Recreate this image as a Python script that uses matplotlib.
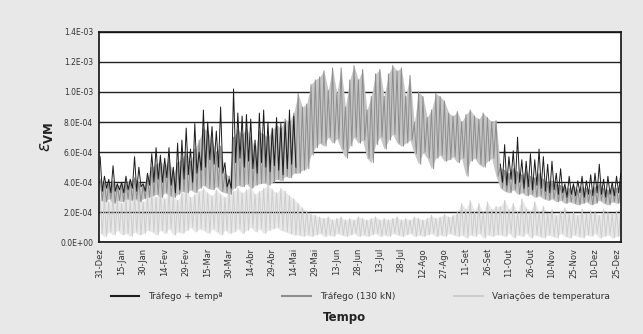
import numpy as np
import matplotlib
matplotlib.use("Agg")
import matplotlib.pyplot as plt
from matplotlib.lines import Line2D

# ---- data (values in units of 1e-4), sampled every 3 days from 31-Dez ----
step_days = 3
nan = np.nan

# Tráfego + tempª (black)
black_hi = ([5.7, 4.4, 4.2, 5.1, 3.9, 4.0, 4.4, 4.2, 5.7, 5.0,
             3.9, 4.6, 5.9, 6.3, 5.8, 5.6, 6.3, 5.0, 6.6, 6.8,
             7.6, 6.2, 7.9, 6.0, 8.8, 8.0, 7.7, 7.4, 9.0, 5.3,
             4.2, 10.2, 8.6, 8.4, 8.5, 8.2, 6.8, 8.6, 8.8, 8.0,
             7.6, 8.3, 7.9, 8.0, 8.8, 8.4]
            + [nan] * 47
            + [5.2, 6.5, 5.7, 6.1, 7.0, 5.5, 5.4, 5.9, 5.5, 6.2,
               5.7, 5.2, 5.4, 4.6, 4.9, 3.9, 4.4, 3.9, 4.1, 4.4,
               4.1, 4.5, 4.6, 5.2, 4.2, 4.4, 4.0, 4.4, 4.6])
black_lo = ([3.4, 3.6, 3.3, 3.4, 3.5, 3.3, 3.5, 3.6, 3.4, 3.7,
             3.4, 3.8, 4.0, 4.2, 4.0, 4.3, 3.8, 3.3, 3.5, 4.2,
             4.5, 4.0, 4.6, 4.8, 5.0, 5.5, 5.2, 5.0, 4.6, 3.7,
             3.6, 5.3, 5.6, 5.0, 5.4, 4.9, 4.6, 5.3, 5.0, 4.7,
             5.1, 4.8, 4.5, 4.9, 5.2, 5.0]
            + [nan] * 47
            + [4.0, 3.8, 4.2, 3.9, 4.0, 3.6, 3.7, 3.5, 3.8, 3.6,
               3.4, 3.3, 3.5, 3.2, 3.3, 3.0, 3.2, 3.1, 3.3, 3.0,
               3.2, 3.1, 3.3, 3.2, 3.0, 3.2, 3.1, 3.3, 3.2])

# Tráfego (130 kN) (mid grey)
traffic_hi = [4.2, 4.0, 3.9, 4.1, 3.8, 3.9, 4.0, 4.1, 4.3, 4.0,
              3.8, 4.3, 5.0, 5.2, 5.4, 5.1, 5.5, 4.6, 5.3, 5.6,
              6.0, 5.4, 6.2, 6.8, 7.6, 7.4, 6.8, 6.0, 6.4, 4.6,
              4.4, 7.0, 7.5, 7.2, 7.6, 7.0, 6.2, 7.4, 7.2, 7.0,
              7.5, 7.8, 7.6, 8.2, 8.0, 8.6,
              9.9, 9.0, 9.2, 10.5, 10.8, 11.0, 11.4, 10.1, 11.6, 9.9,
              11.6, 9.0, 10.8, 11.75, 10.8, 11.5, 8.8, 9.7, 11.2, 11.5,
              9.7, 11.2, 11.75, 11.4, 11.6, 9.7, 11.1, 7.9, 10.0, 9.7,
              8.3, 8.8, 9.9, 9.7, 9.4, 8.6, 8.4, 8.7, 8.0, 8.5,
              8.8, 8.4, 8.2, 8.6, 8.3, 8.0, 8.1,
              5.0, 4.8, 4.6, 4.9, 4.7, 4.5, 4.8, 4.4, 4.3, 4.6,
              4.2, 4.0, 4.1, 3.9, 3.8, 3.7, 3.6, 3.8, 3.5, 3.7,
              3.6, 3.5, 3.7, 3.9, 3.6, 3.5, 3.7, 3.6, 3.8]
traffic_lo = [2.8, 2.7, 2.9, 2.6, 2.8, 2.7, 2.9, 2.8, 2.9, 2.7,
              2.9, 3.0, 3.1, 3.2, 3.0, 3.3, 3.1, 3.0, 3.2, 3.4,
              3.3, 3.5, 3.3, 3.6, 3.8, 3.6, 3.5, 3.7, 3.4, 3.3,
              3.2, 3.6, 3.8, 3.7, 3.9, 3.6, 3.8, 3.9, 4.0, 3.8,
              4.0, 4.2, 4.1, 4.4, 4.3, 4.6,
              4.6, 4.8, 4.9, 5.8, 6.3, 6.6, 6.4, 7.0, 6.6, 6.9,
              6.2, 5.6, 6.4, 7.0, 6.6, 6.8, 5.6, 5.3, 6.5, 7.0,
              6.2, 6.8, 7.2, 6.6, 6.4, 6.6, 6.8, 5.9, 5.2, 6.0,
              5.6, 4.9, 5.6, 5.8, 5.4, 5.5, 5.7, 5.3, 5.6, 4.4,
              5.4, 5.6, 5.2, 5.0, 5.4, 5.6, 4.4,
              3.6, 3.4, 3.3, 3.5, 3.2, 3.3, 3.1, 3.2, 3.0, 3.1,
              2.9, 2.8, 2.9, 2.7, 2.8, 2.6, 2.7, 2.6, 2.5, 2.6,
              2.7, 2.5, 2.6, 2.8, 2.6, 2.5, 2.7, 2.6, 2.7]

# Variações de temperatura (light grey)
temp_hi = [2.8, 3.0, 2.7, 3.1, 2.9, 2.6, 3.0, 2.8, 3.2, 2.9, 2.7, 3.0,
           3.2, 3.0, 3.3, 2.9, 3.4, 3.1, 2.8, 3.3, 3.5, 3.0, 3.2, 3.4, 3.6,
           3.3, 3.1, 3.5, 3.2, 3.0, 3.4,
           3.4, 3.6, 3.3, 3.5, 3.7, 3.2, 3.4, 3.6, 3.8, 3.5, 3.3, 3.6, 3.4,
           3.1, 2.9,
           2.6, 2.3, 2.1, 1.9, 1.8, 1.7, 1.6, 1.7, 1.5, 1.6,
           1.7, 1.5, 1.6, 1.5, 1.7, 1.6, 1.5, 1.6, 1.7, 1.5,
           1.6, 1.5, 1.6, 1.7, 1.5, 1.6, 1.5, 1.7, 1.6, 1.5,
           1.6, 1.8, 1.6, 1.7, 1.9, 1.7, 1.8, 2.0, 2.6, 2.2,
           2.8, 2.1, 2.6, 2.0, 2.7, 2.2, 2.4,
           2.4, 2.8, 2.2, 2.6, 2.0, 2.9, 2.3, 2.1, 2.7, 2.0,
           2.4, 1.9, 2.2, 1.8, 2.1, 2.3, 1.9, 2.0, 1.8, 2.2,
           1.9, 2.1, 2.0, 1.8, 2.2, 2.0, 1.9, 2.1, 2.3]
temp_lo = [0.6, 0.4, 0.7, 0.5, 0.8, 0.5, 0.6, 0.4, 0.7, 0.5, 0.6, 0.8,
           0.7, 0.5, 0.8, 0.6, 0.9, 0.5, 0.7, 0.6, 0.8, 1.0, 0.7, 0.9, 0.8,
           0.6, 0.9, 0.7, 0.5, 0.8, 0.6,
           0.7, 0.9, 0.6, 0.8, 1.0, 0.7, 0.9, 0.6, 0.8, 0.9, 1.0, 0.8, 0.7,
           0.6, 0.5,
           0.5, 0.4, 0.5, 0.4, 0.5, 0.6, 0.4, 0.5, 0.4, 0.6,
           0.5, 0.4, 0.5, 0.6, 0.4, 0.5, 0.4, 0.5, 0.6, 0.4,
           0.5, 0.4, 0.6, 0.5, 0.4, 0.5, 0.6, 0.4, 0.5, 0.4,
           0.5, 0.6, 0.4, 0.5, 0.4, 0.6, 0.5, 0.4, 0.5, 0.3,
           0.5, 0.4, 0.6, 0.3, 0.5, 0.4, 0.5,
           0.5, 0.4, 0.6, 0.3, 0.5, 0.4, 0.6, 0.3, 0.5, 0.4,
           0.3, 0.5, 0.4, 0.3, 0.6, 0.4, 0.3, 0.5, 0.4, 0.3,
           0.5, 0.4, 0.6, 0.3, 0.4, 0.5, 0.3, 0.4, 0.5]

tick_labels = ["31-Dez", "15-Jan", "30-Jan", "14-Fev", "29-Fev", "15-Mar",
               "30-Mar", "14-Abr", "29-Abr", "14-Mai", "29-Mai", "13-Jun",
               "28-Jun", "13-Jul", "28-Jul", "12-Ago", "27-Ago", "11-Set",
               "26-Set", "11-Out", "26-Out", "10-Nov", "25-Nov", "10-Dez",
               "25-Dez"]
tick_step_days = 15
series_names = ["Tráfego + tempª", "Tráfego (130 kN)", "Variações de temperatura"]
series_colors = ["#1c1c1c", "#8d8d8d", "#cdcdcd"]
fill_colors = [None, "#c6c6c6", "#e8e8e8"]


def zigzag(hi, lo):
    hi = np.asarray(hi, float) * 1e-4
    lo = np.asarray(lo, float) * 1e-4
    d = np.arange(len(hi)) * step_days
    x = np.empty(2 * len(hi))
    y = np.empty(2 * len(hi))
    x[0::2] = d
    x[1::2] = d + step_days / 2
    y[0::2] = hi
    y[1::2] = lo
    return x, y


fig = plt.figure(figsize=(6.43, 3.34), dpi=100, facecolor="#e8e8e8")
ax = fig.add_axes([0.1535, 0.274, 0.812, 0.631])
ax.set_facecolor("white")

layers = [(temp_hi, temp_lo, 2), (traffic_hi, traffic_lo, 1), (black_hi, black_lo, 0)]
for z, (hi, lo, k) in enumerate(layers):
    d = np.arange(len(hi)) * step_days
    if fill_colors[k]:
        ax.fill_between(d, np.asarray(lo, float) * 1e-4, np.asarray(hi, float) * 1e-4,
                        color=fill_colors[k], lw=0, zorder=2 + 2 * z)
    x, y = zigzag(hi, lo)
    ax.plot(x, y, color=series_colors[k], lw=0.7, zorder=3 + 2 * z)

ax.set_xlim(-1, 363)
ax.set_ylim(0, 1.4e-3)
yt = np.arange(0, 8) * 2e-4
ax.set_yticks(yt)
ax.set_yticklabels([f"{v:.1E}" for v in yt], fontsize=5.5, color="#333333")
ax.yaxis.grid(True, color="#222222", lw=1.0, zorder=10)
ax.set_axisbelow(False)
ax.set_xticks(np.arange(len(tick_labels)) * tick_step_days)
ax.set_xticklabels(tick_labels, rotation=90, fontsize=6, color="#333333")
ax.tick_params(axis="both", length=0, pad=4)
for s in ax.spines.values():
    s.set_color("#111111")
    s.set_linewidth(1.2)
    s.set_zorder(11)

ax.set_ylabel(r"$\epsilon_{\mathbf{VM}}$", fontsize=12, labelpad=4, color="#222222")

handles = [Line2D([], [], color=c, lw=1.5) for c in series_colors]
fig.legend(handles, series_names, loc="center", bbox_to_anchor=(0.56, 0.112),
           ncol=3, frameon=False, fontsize=6.5, handlelength=3.2,
           columnspacing=6.5, handletextpad=1.0, labelcolor="#333333")
fig.text(0.535, 0.048, "Tempo", ha="center", va="center", fontsize=8.5,
         fontweight="bold", color="#222222")

fig.savefig("out.png", dpi=100, facecolor=fig.get_facecolor())
